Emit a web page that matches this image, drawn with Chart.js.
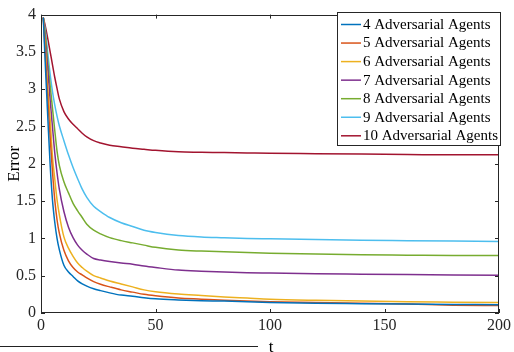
<!DOCTYPE html>
<html><head><meta charset="utf-8">
<script src="https://cdn.jsdelivr.net/npm/chart.js@4/dist/chart.umd.min.js"></script>
<style>html,body{margin:0;padding:0;background:#fff}#wrap{width:514px;height:352px;position:relative}</style>
</head><body><div id="wrap"><canvas id="c" width="514" height="352"></canvas></div>
<script>
const tValues = [1,2,3,4,5,6,7,8,10,12,14,16,18,20,23,26,30,35,40,45,50,60,70,80,90,100,120,140,160,180,200];
const err4  = [3.96,3.25,2.6,1.98,1.52,1.22,1.0,0.85,0.64,0.55,0.49,0.43,0.39,0.36,0.325,0.30,0.27,0.24,0.225,0.205,0.19,0.175,0.165,0.16,0.15,0.14,0.13,0.125,0.12,0.115,0.11];
const err5  = [3.96,3.4,2.85,2.35,1.9,1.52,1.25,1.07,0.84,0.70,0.61,0.55,0.51,0.47,0.42,0.385,0.35,0.31,0.28,0.25,0.23,0.20,0.185,0.17,0.16,0.15,0.14,0.13,0.12,0.105,0.10];
const err6  = [3.96,3.5,3.0,2.6,2.1,1.8,1.52,1.32,1.02,0.87,0.76,0.67,0.61,0.56,0.50,0.47,0.43,0.39,0.35,0.31,0.285,0.255,0.235,0.215,0.20,0.185,0.17,0.16,0.15,0.145,0.14];
const err7  = [3.96,3.6,3.25,2.85,2.5,2.15,1.88,1.66,1.36,1.15,1.01,0.91,0.84,0.79,0.73,0.71,0.69,0.67,0.655,0.63,0.61,0.575,0.56,0.55,0.54,0.535,0.525,0.52,0.515,0.51,0.505];
const err8  = [3.96,3.7,3.35,3.05,2.75,2.45,2.17,1.98,1.76,1.61,1.47,1.37,1.28,1.19,1.11,1.06,1.01,0.97,0.94,0.91,0.88,0.845,0.83,0.82,0.81,0.80,0.79,0.78,0.775,0.77,0.77];
const err9  = [3.96,3.76,3.47,3.2,2.97,2.79,2.64,2.51,2.31,2.12,1.95,1.80,1.66,1.55,1.43,1.36,1.28,1.21,1.16,1.11,1.08,1.04,1.02,1.01,1.0,0.995,0.985,0.975,0.97,0.965,0.96];
const err10 = [3.96,3.83,3.67,3.5,3.33,3.16,3.01,2.87,2.70,2.60,2.53,2.47,2.41,2.36,2.31,2.28,2.25,2.23,2.21,2.195,2.18,2.16,2.155,2.15,2.145,2.14,2.135,2.13,2.125,2.12,2.12];
const seriesLabels = ['4 Adversarial Agents','5 Adversarial Agents','6 Adversarial Agents','7 Adversarial Agents','8 Adversarial Agents','9 Adversarial Agents','10 Adversarial Agents'];
const xTicks = [0,50,100,150,200];
const yTicks = [0,0.5,1,1.5,2,2.5,3,3.5,4];
const xTitle = 't';
const yTitle = 'Error';

const seriesValues = [err4,err5,err6,err7,err8,err9,err10];
const colors = ['#0072BD','#D95319','#EDB120','#7E2F8E','#77AC30','#4DBEEE','#A2142F'];
const FONT = "'Liberation Serif', 'Times New Roman', serif";
const AX = '#262626';
Chart.defaults.font.family = FONT;

const datasets = seriesValues.map((vals,i)=>({
  label: seriesLabels[i],
  data: tValues.map((t,j)=>({x:t,y:vals[j]})),
  borderColor: colors[i],
  backgroundColor: colors[i],
  borderWidth: 1.5,
  pointRadius: 0,
  fill: false,
  cubicInterpolationMode: 'monotone'
}));

const decor = {
  id:'decor',
  afterDatasetsDraw(chart){
    const ctx = chart.ctx, a = chart.chartArea;
    const xs = chart.scales.x, ys = chart.scales.y;
    ctx.save();
    ctx.strokeStyle = AX; ctx.lineWidth = 1;
    ctx.strokeRect(Math.round(a.left)+0.5, Math.round(a.top)+0.5, Math.round(a.right-a.left)-1, Math.round(a.bottom-a.top)-1);
    const L = 4;
    ctx.beginPath();
    xTicks.forEach(v=>{
      const px = Math.round(xs.getPixelForValue(v))+0.5;
      ctx.moveTo(px, a.bottom); ctx.lineTo(px, a.bottom-L);
      ctx.moveTo(px, a.top); ctx.lineTo(px, a.top+L);
    });
    yTicks.forEach(v=>{
      const py = Math.round(ys.getPixelForValue(v))+0.5;
      ctx.moveTo(a.left, py); ctx.lineTo(a.left+L, py);
      ctx.moveTo(a.right, py); ctx.lineTo(a.right-L, py);
    });
    ctx.stroke();
    const lx = 337.5, ly = 12.5, lw = 163, lh = 133;
    ctx.fillStyle = '#fff';
    ctx.fillRect(lx, ly, lw, lh);
    ctx.strokeStyle = AX;
    ctx.strokeRect(lx, ly, lw, lh);
    ctx.font = '15px ' + FONT;
    ctx.textBaseline = 'middle';
    ctx.textAlign = 'left';
    chart.data.datasets.forEach((d,i)=>{
      const y = 24.5 + i*18.55;
      ctx.strokeStyle = d.borderColor; ctx.lineWidth = 1.5;
      ctx.beginPath(); ctx.moveTo(341, y); ctx.lineTo(361, y); ctx.stroke();
      ctx.fillStyle = '#000';
      ctx.fillText(d.label, 363, y+0.5);
    });
    ctx.fillStyle = '#000';
    ctx.font = '17px ' + FONT;
    ctx.textAlign = 'center';
    ctx.textBaseline = 'alphabetic';
    ctx.fillText(xTitle, (a.left+a.right)/2 + 1, 352);
    ctx.save();
    ctx.translate(19, (a.top+a.bottom)/2);
    ctx.rotate(-Math.PI/2);
    ctx.fillText(yTitle, 0, 0);
    ctx.restore();
    ctx.strokeStyle = '#222'; ctx.lineWidth = 1.2;
    ctx.beginPath(); ctx.moveTo(0, 346.5); ctx.lineTo(258, 346.5); ctx.stroke();
    ctx.restore();
  }
};

new Chart(document.getElementById('c'), {
  type: 'line',
  data: { datasets },
  options: {
    responsive: false,
    devicePixelRatio: 1,
    animation: false,
    layout: { padding: { top: 13, right: 13, left: 0, bottom: 0 } },
    plugins: { legend: { display: false }, tooltip: { enabled: false } },
    scales: {
      x: {
        type: 'linear', min: 0, max: 200,
        afterBuildTicks: s => { s.ticks = xTicks.map(v=>({value:v})); },
        afterFit: s => { s.height = 39; },
        grid: { display: false, drawTicks: false },
        border: { display: false },
        ticks: { font: { family: FONT, size: 16 }, color: AX, padding: 3, maxRotation: 0, autoSkip: false, callback: v => String(v) }
      },
      y: {
        type: 'linear', min: 0, max: 4,
        afterBuildTicks: s => { s.ticks = yTicks.map(v=>({value:v})); },
        afterFit: s => { s.width = 41; },
        grid: { display: false, drawTicks: false },
        border: { display: false },
        ticks: { font: { family: FONT, size: 16 }, color: AX, padding: 5, autoSkip: false, callback: v => String(v) }
      }
    }
  },
  plugins: [decor]
});
</script></body></html>
